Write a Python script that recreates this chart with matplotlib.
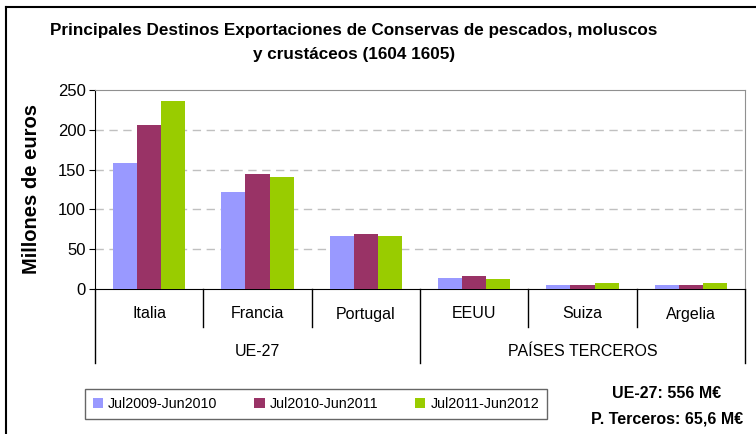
import matplotlib.pyplot as plt
from matplotlib.patches import Patch
from matplotlib.lines import Line2D
import matplotlib.transforms as mtransforms

plt.rcParams['font.family'] = ['Liberation Sans', 'DejaVu Sans']

paises = ['Italia', 'Francia', 'Portugal', 'EEUU', 'Suiza', 'Argelia']
grupos = ['UE-27', 'PAÍSES TERCEROS']
grupo_tam = [3, 3]
periodos = ['Jul2009-Jun2010', 'Jul2010-Jun2011', 'Jul2011-Jun2012']
v2010 = [158, 122, 67, 14, 5, 5]
v2011 = [206, 145, 69, 16, 5, 5]
v2012 = [236, 141, 67, 12, 7.5, 7.5]
colores = ['#9999FF', '#993366', '#99CC00']

fig = plt.figure(figsize=(7.56, 4.34), dpi=100)
ax = fig.add_axes([95 / 756, 1 - 289 / 434, 650 / 756, 199 / 434])

ancho = 1 / 4.5
for k, serie in enumerate([v2010, v2011, v2012]):
    xs = [i + 0.5 + (k - 1) * ancho for i in range(len(paises))]
    ax.bar(xs, serie, width=ancho, color=colores[k], zorder=3)

ax.set_xlim(0, len(paises))
ax.set_ylim(0, 250)
ax.set_yticks(range(0, 251, 50))
ax.tick_params(axis='y', labelsize=12, length=4.5, direction='out', pad=2)
ax.set_xticks([])
for y in range(50, 250, 50):
    ax.axhline(y, color='#c0c0c0', linestyle=(0, (6, 4)), linewidth=1, zorder=1)
ax.spines['top'].set_color('#909090')
ax.spines['right'].set_color('#909090')
ax.spines['left'].set_color('black')
ax.spines['bottom'].set_color('black')
ax.set_ylabel('Millones de euros', fontsize=14.5, fontweight='bold', labelpad=12)

# eje de categorias en dos niveles
trans = mtransforms.blended_transform_factory(ax.transData, ax.transAxes)
px = 1 / 199
for i in range(1, len(paises)):
    if i % 3 != 0:
        ax.add_line(Line2D([i, i], [0, -38 * px], color='black', lw=1, transform=trans, clip_on=False))
for i, p in enumerate(paises):
    ax.text(i + 0.5, -25 * px, p, transform=trans, ha='center', va='center', fontsize=11.5)
pos = 0
for g, n in zip(grupos, grupo_tam):
    ax.text(pos + n / 2, -62 * px, g, transform=trans, ha='center', va='center', fontsize=11.5)
    pos += n
pos = 0
for n in [0] + grupo_tam:
    pos += n
    ax.add_line(Line2D([pos, pos], [0, -74 * px], color='black', lw=1, transform=trans, clip_on=False))

fig.text(354 / 756, 1 - 31 / 434, 'Principales Destinos Exportaciones de Conservas de pescados, moluscos',
         ha='center', va='center', fontsize=12.3, fontweight='bold')
fig.text(354 / 756, 1 - 55 / 434, 'y crustáceos (1604 1605)',
         ha='center', va='center', fontsize=12.3, fontweight='bold')

handles = [Patch(facecolor=c, edgecolor='none') for c in colores]
leg = fig.legend(handles, periodos, ncol=3, loc='center', fontsize=10.3,
                 bbox_to_anchor=(316 / 756, 1 - 404 / 434), frameon=True, fancybox=False,
                 handlelength=0.7, handleheight=0.7, handletextpad=0.35, columnspacing=2.6,
                 borderpad=0.55)
leg.get_frame().set_edgecolor('#404040')
leg.get_frame().set_linewidth(1)

fig.text(667 / 756, 1 - 394 / 434, 'UE-27: 556 M€', ha='center', va='center', fontsize=11.5, fontweight='bold')
fig.text(667 / 756, 1 - 419 / 434, 'P. Terceros: 65,6 M€', ha='center', va='center', fontsize=11.5, fontweight='bold')

# marco exterior
fig.add_artist(Line2D([6 / 756, 6 / 756], [0, 1 - 7 / 434], color='black', lw=1.5, transform=fig.transFigure))
fig.add_artist(Line2D([6 / 756, 1], [1 - 7 / 434, 1 - 7 / 434], color='black', lw=1.5, transform=fig.transFigure))

fig.savefig('out.png', dpi=100)
